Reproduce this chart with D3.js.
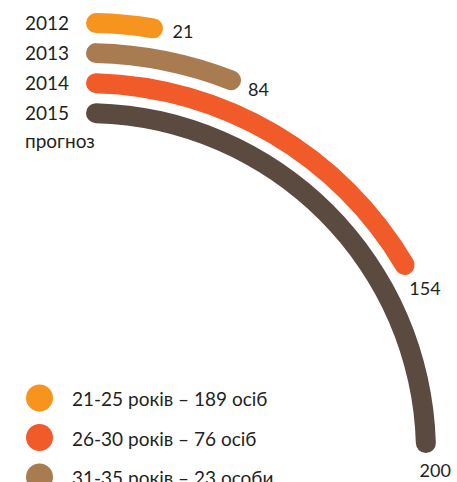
<!DOCTYPE html>
<html lang="uk">
<head>
  <meta charset="utf-8" />
  <title>Radial bars</title>
  <script src="https://d3js.org/d3.v7.min.js"></script>
  <style>
    body { margin: 0; background: #fff; }
    text { font-family: Lato, "Open Sans", sans-serif; fill: #231f20; }
  </style>
</head>
<body>
<div id="chart"></div>
<script>
// data
var years = ["2012", "2013", "2014", "2015"];
var values = [21, 84, 154, 200];
var yearNotes = ["", "", "", "прогноз"];
var barColors = ["#f7941d", "#a87b50", "#f15a29", "#5b4a3f"];

var legendLabels = ["21-25 років – 189 осіб", "26-30 років – 76 осіб", "31-35 років – 23 особи"];
var legendColors = ["#f7941d", "#f15a29", "#a87b50"];

// the infographic is not drawn to a linear scale, so angles follow the original
var angleDegrees = [0, 10.3, 22.7, 61, 90];

var width = 457, height = 482;
var cx = 86, cy = 453;

var svg = d3.select("#chart")
            .append("svg")
            .attr("width", width)
            .attr("height", height);

var angle = d3.scaleLinear()
              .domain([0].concat(values))
              .range(angleDegrees.map(function(d) { return d * Math.PI / 180; }));

var radius = d3.scalePoint()
               .domain(years)
               .range([430, 340]);

var thick = 20;

var arc = d3.arc()
            .innerRadius(function(d) { return radius(d.year) - thick / 2; })
            .outerRadius(function(d) { return radius(d.year) + thick / 2; })
            .startAngle(0)
            .endAngle(function(d) { return angle(d.value); })
            .cornerRadius(thick / 2);

var rows = years.map(function(y, i) {
  return { year: y, value: values[i], color: barColors[i], note: yearNotes[i] };
});

var g = svg.append("g").attr("transform", "translate(" + cx + "," + cy + ")");

g.selectAll("path.bar")
 .data(rows)
 .enter()
 .append("path")
 .attr("class", "bar")
 .attr("d", arc)
 .attr("fill", function(d) { return d.color; });

// value labels just past the end of each arc
g.selectAll("text.val")
 .data(rows)
 .enter()
 .append("text")
 .attr("class", "val")
 .attr("x", function(d) {
   var a = angle(d.value), r = radius(d.year);
   return r * Math.sin(a) + 11 * Math.cos(a) - 6.5 * Math.sin(a);
 })
 .attr("y", function(d) {
   var a = angle(d.value), r = radius(d.year);
   return -r * Math.cos(a) - 3 + 20 * Math.sin(a);
 })
 .attr("dominant-baseline", "central")
 .attr("font-size", 18)
 .text(function(d) { return d.value; });

// year labels on the left
svg.selectAll("text.year")
   .data(rows)
   .enter()
   .append("text")
   .attr("class", "year")
   .attr("x", 25)
   .attr("y", function(d) { return cy - radius(d.year) + 7; })
   .attr("font-size", 19)
   .text(function(d) { return d.year; });

svg.selectAll("text.note")
   .data(rows.filter(function(d) { return d.note; }))
   .enter()
   .append("text")
   .attr("class", "note")
   .attr("x", 25)
   .attr("y", function(d) { return cy - radius(d.year) + 35; })
   .attr("font-size", 19)
   .text(function(d) { return d.note; });

// legend
var legend = svg.selectAll("g.legend")
                .data(legendLabels)
                .enter()
                .append("g")
                .attr("class", "legend")
                .attr("transform", function(d, i) { return "translate(0," + (398 + i * 39.5) + ")"; });

legend.append("circle")
      .attr("cx", 39.5)
      .attr("cy", 0)
      .attr("r", 13.5)
      .attr("fill", function(d, i) { return legendColors[i]; });

legend.append("text")
      .attr("x", 72)
      .attr("y", 8)
      .attr("font-size", 19)
      .text(function(d) { return d; });
</script>
</body>
</html>
